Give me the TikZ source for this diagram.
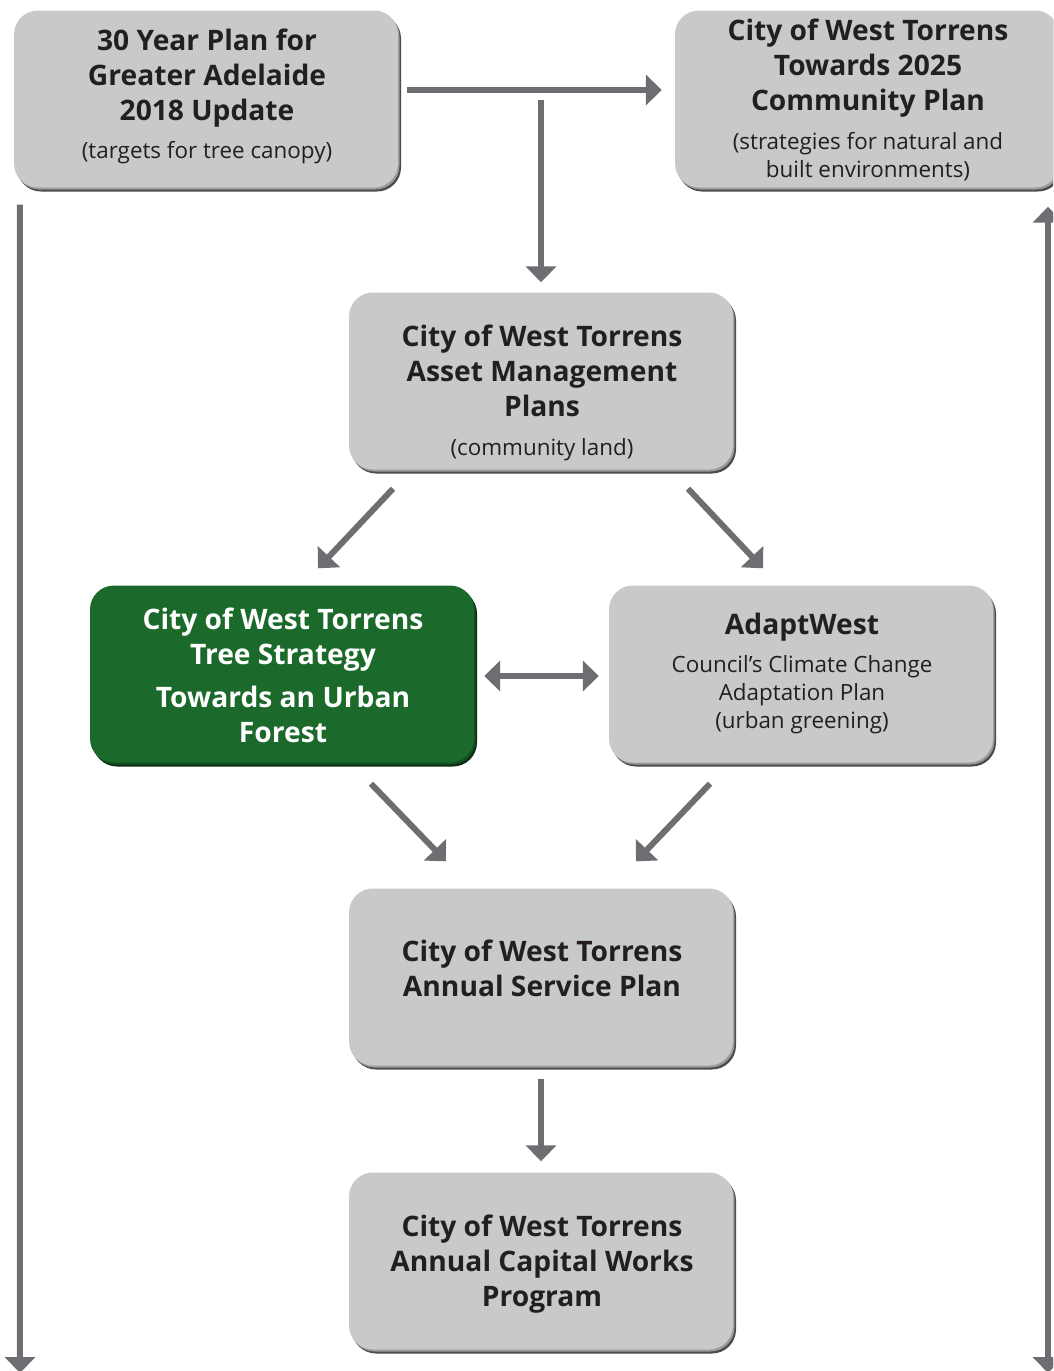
\documentclass[tikz,border=0pt]{standalone}
\usepackage{fontspec}
\setmainfont{Open Sans}
\usetikzlibrary{arrows.meta,calc,shadows}

\definecolor{boxgray}{HTML}{C8C9CB}
\definecolor{rimgray}{HTML}{9A9B9D}
\definecolor{edgegray}{HTML}{4A4B4D}
\definecolor{arrowgray}{HTML}{6D6E71}
\definecolor{treegreen}{HTML}{1B6A2B}
\definecolor{treerim}{HTML}{144F20}
\definecolor{treeedge}{HTML}{0B2E12}
\definecolor{ink}{HTML}{231F20}

\newcommand\headfont{\fontsize{28.2}{35}\selectfont\bfseries}
\newcommand\notefont{\fontsize{22.4}{28}\selectfont\mdseries}

\tikzset{
  planbase/.style={rectangle, rounded corners=24pt, minimum width=384pt,
    minimum height=177pt, inner sep=0pt},
  plan/.style={planbase, fill=boxgray,
    general shadow={fill=edgegray, shadow xshift=3pt, shadow yshift=-4pt},
    general shadow={fill=rimgray, shadow xshift=1.5pt, shadow yshift=-2pt}},
  keyplan/.style={planbase, fill=treegreen,
    general shadow={fill=treeedge, shadow xshift=3pt, shadow yshift=-4pt},
    general shadow={fill=treerim, shadow xshift=1.5pt, shadow yshift=-2pt}},
  words/.style={align=center, font=\headfont, text=ink, inner sep=0pt},
  keywords/.style={words, text=white},
  link/.style={draw=arrowgray, line width=6pt, ->},
  twoway/.style={draw=arrowgray, line width=6pt, <->},
  >={Triangle[width=30pt,length=16pt]},
}

\begin{document}
\begin{tikzpicture}[x=1pt,y=-1pt]
  \path[use as bounding box] (0,0) rectangle (1053,1371);
  \clip (0,0) rectangle (1053,1371);

  % planning documents
  \node[plan] (vision) at (206,99) {};
  \node[plan] (community) at (867,99) {};
  \node[plan] (assets) at (541,381) {};
  \node[keyplan] (tree) at (282,674) {};
  \node[plan] (adapt) at (801,674) {};
  \node[plan] (service) at (541,977) {};
  \node[plan] (capital) at (541,1261) {};

  % their titles
  \node[words] (visiontext) at ($(vision.center)+(1,-3)$)
    {30 Year Plan for\\Greater Adelaide\\2018 Update\\[3pt]{\notefont (targets for tree canopy)}};
  \node[words] (communitytext) at ($(community.center)+(1,1)$)
    {City of West Torrens\\Towards 2025\\Community Plan\\[4pt]{\notefont (strategies for natural and}\\[-7pt]{\notefont built environments)}};
  \node[words] (assetstext) at ($(assets.center)+(1,12)$)
    {City of West Torrens\\Asset Management\\Plans\\[4pt]{\notefont (community land)}};
  \node[keywords] (treetext) at ($(tree.center)+(1,1)$)
    {City of West Torrens\\Tree Strategy\\[8pt]Towards an Urban\\Forest};
  \node[words] (adapttext) at ($(adapt.center)+(1,-1)$)
    {AdaptWest\\[3pt]{\notefont Council’s Climate Change}\\[-7pt]{\notefont Adaptation Plan}\\[-7pt]{\notefont (urban greening)}};
  \node[words] (servicetext) at ($(service.center)+(1,-9)$)
    {City of West Torrens\\Annual Service Plan};
  \node[words] (capitaltext) at ($(capital.center)+(1,3)$)
    {City of West Torrens\\Annual Capital Works\\Program};

  % free ends of the connectors
  \coordinate (fork) at (541,100);
  \coordinate (leftend) at (20,1373);
  \coordinate (rightend) at (1048,1373);

  % connectors
  \draw[link] ($(vision.east)+(9,-9)$) -- ($(community.west)+(-13,-9)$);
  \draw[link] (fork) -- ($(assets.north)+(0,-10)$);
  \draw[link] ($(assets.south)+(-148,19)$) -- ($(tree.north)+(36,-17)$);
  \draw[link] ($(assets.south)+(147,19)$) -- ($(adapt.north)+(-38,-17)$);
  \draw[twoway] ($(tree.east)+(10,2)$) -- ($(adapt.west)+(-10,2)$);
  \draw[link] ($(tree.south)+(89,21)$) -- ($(service.north)+(-95,-27)$);
  \draw[link] ($(adapt.south)+(-91,21)$) -- ($(service.north)+(95,-27)$);
  \draw[link] ($(service.south)+(0,13)$) -- ($(capital.north)+(0,-11)$);
  \draw[link] ($(vision.south west)+(6,17)$) -- (leftend);
  \draw[twoway] ($(community.south)+(181,19)$) -- (rightend);
\end{tikzpicture}
\end{document}
